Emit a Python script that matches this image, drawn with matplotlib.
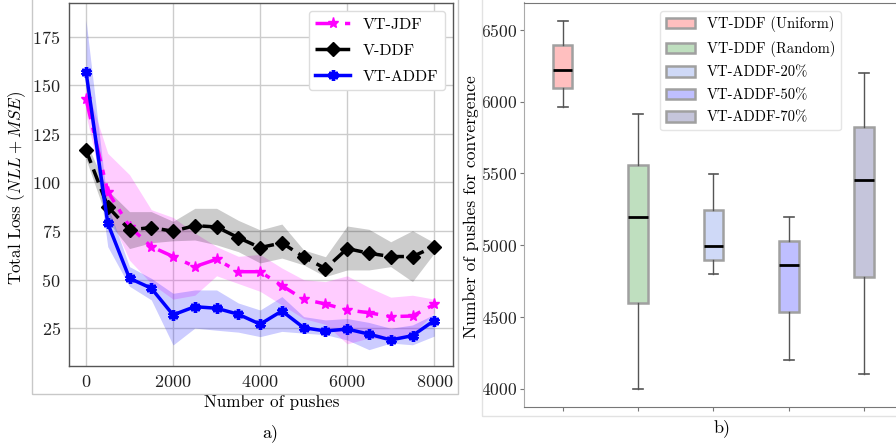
import numpy as np
import matplotlib
matplotlib.use("Agg")
import matplotlib.pyplot as plt
from matplotlib.patches import Rectangle, Patch

plt.rcParams['font.family'] = 'serif'
plt.rcParams['font.serif'] = ['cmr10']
plt.rcParams['mathtext.fontset'] = 'cm'
plt.rcParams['axes.formatter.use_mathtext'] = True

# ---- panel a) data ----
pushes = [0, 500, 1000, 1500, 2000, 2500, 3000, 3500, 4000, 4500,
          5000, 5500, 6000, 6500, 7000, 7500, 8000]

jdf = [143, 95.3, 77.3, 67, 61.9, 56.7, 60.5, 54.1, 54.1, 46.9,
       39.9, 37.5, 34.4, 33, 31, 31.3, 37.3]
jdf_hi = [150, 115, 104, 86, 82, 74, 67, 62, 63, 56,
          50, 49, 52, 46, 41, 42, 40]
jdf_lo = [135, 85, 60, 48, 40, 42, 52, 48, 44, 37,
          30, 27, 17, 20, 19, 22, 33]

ddf = [116.7, 87.6, 75.6, 76.8, 74.9, 77.8, 77.1, 71.6, 66.5, 68.9,
       61.7, 55.7, 66, 63.6, 61.9, 61.9, 67]
ddf_hi = [121, 96, 85, 85, 80, 86.7, 86.7, 80.5, 75.6, 78.6,
          65.3, 61.8, 77.6, 75.9, 69.5, 75.2, 69]
ddf_lo = [112, 80, 66, 69, 70, 70.4, 67.9, 64.4, 58.6, 61.1,
          57.6, 51.6, 55, 55, 56.7, 49, 63.7]

addf = [157, 79, 50.7, 45.6, 31.9, 36.1, 35.3, 32.2, 27.1, 33.9,
        25.3, 23.6, 24.6, 22, 19, 21.2, 29]
addf_hi = [183.6, 88, 56.7, 50.7, 43, 44.7, 44.7, 38, 34.4, 41.3,
           31, 29.3, 30, 28, 25, 26.7, 32.2]
addf_lo = [150, 67, 46.6, 39.6, 16.4, 25.1, 24, 23, 20.7, 23.4,
           22.5, 21.7, 19, 14, 17.4, 16.5, 21]

# ---- panel b) data ----
box_labels = ['VT-DDF (Uniform)', 'VT-DDF (Random)', 'VT-ADDF-20%',
              'VT-ADDF-50%', 'VT-ADDF-70%']
box_whislo = [5966, 4000, 4797, 4200, 4100]
box_q1 = [6093, 4599, 4899, 4532, 4781]
box_med = [6223, 5197, 4997, 4864, 5454]
box_q3 = [6395, 5559, 5248, 5032, 5824]
box_whishi = [6565, 5917, 5499, 5197, 6198]
box_colors = ['red', 'green', 'royalblue', 'blue', 'midnightblue']

W, H = 896, 446
fig = plt.figure(figsize=(W / 100, H / 100), dpi=100)


def frac(x0, y0, x1, y1):
    # pixel box (top-left origin) -> figure fraction
    return [x0 / W, 1 - y1 / H, (x1 - x0) / W, (y1 - y0) / H]


# panel frames
fig.patches.append(Rectangle((32 / W, 1 - 394 / H), (458 - 32) / W, 394 / H + 0.01,
                             transform=fig.transFigure, fill=False,
                             edgecolor='#c8c8c8', lw=1))
fig.patches.append(Rectangle((481.5 / W, 1 - 416 / H), 0.6, 416 / H + 0.01,
                             transform=fig.transFigure, fill=False,
                             edgecolor='#e2e2e2', lw=1))

# ---------- a) ----------
ax = fig.add_axes(frac(69, 3, 453, 366))
ax.grid(True, color='#cccccc', lw=1)
ax.set_axisbelow(True)

ax.fill_between(pushes, jdf_lo, jdf_hi, color='magenta', alpha=0.2, lw=0)
ax.fill_between(pushes, ddf_lo, ddf_hi, color='black', alpha=0.2, lw=0)
ax.fill_between(pushes, addf_lo, addf_hi, color='blue', alpha=0.2, lw=0)

ax.plot(pushes, jdf, color='magenta', ls='-.', lw=2.5, marker='*', ms=8,
        dashes=(6, 2.5, 1.5, 2.5), label='VT-JDF')
ax.plot(pushes, ddf, color='black', ls='--', lw=2.5, marker='D', ms=7,
        dashes=(4, 2), label='V-DDF')
ax.plot(pushes, addf, color='blue', ls='-', lw=2.5, marker=(6, 2, 0), ms=7.5,
        mew=2.5, label='VT-ADDF')

ax.set_xlim(-390, 8430)
ax.set_ylim(5.6, 192.3)
ax.set_xticks([0, 2000, 4000, 6000, 8000])
ax.set_yticks([25, 50, 75, 100, 125, 150, 175])
ax.tick_params(length=0, labelsize=13, pad=6, colors='#222222')
for s in ax.spines.values():
    s.set_color('#555555')
    s.set_linewidth(1)
ax.set_xlabel('Number of pushes', fontsize=12.3)
ax.xaxis.set_label_coords((271.5 - 69) / 384, -0.078)
ax.set_ylabel('Total Loss $(NLL + MSE)$', fontsize=12.3)
ax.yaxis.set_label_coords((28 - 69) / 384, 0.49)
ax.legend(loc='upper right', fontsize=11.5, framealpha=1, labelspacing=0.75,
          handlelength=2.2, edgecolor='#dddddd', fancybox=True)
fig.text(270 / W, 1 - 433 / H, 'a)', ha='center', va='center', fontsize=13)

# ---------- b) ----------
bx = fig.add_axes(frac(524, 2.5, 902, 407.3))
stats = []
for i in range(len(box_labels)):
    stats.append(dict(whislo=box_whislo[i], q1=box_q1[i], med=box_med[i],
                      q3=box_q3[i], whishi=box_whishi[i], label=box_labels[i]))
positions = np.arange(1, len(box_labels) + 1)
bp = bx.bxp(stats, positions=positions, widths=0.26, patch_artist=True,
            showfliers=False,
            boxprops=dict(edgecolor='#a0a0a0', lw=1.8),
            medianprops=dict(color='black', lw=2),
            whiskerprops=dict(color='#555555', lw=1),
            capprops=dict(color='#555555', lw=1.2))
for patch, c in zip(bp['boxes'], box_colors):
    patch.set_facecolor(matplotlib.colors.to_rgba(c, 0.25))

bx.set_xlim(0.487, 5.5)
bx.set_ylim(3870, 6692)
bx.set_yticks([4000, 4500, 5000, 5500, 6000, 6500])
bx.set_xticks(positions)
bx.set_xticklabels([])
bx.tick_params(length=3, width=0.8, color='#777777', labelsize=12.6,
               colors='#222222', pad=2)
bx.tick_params(axis='both', color='#777777')
for s in bx.spines.values():
    s.set_color('#777777')
bx.spines['left'].set_color('#aaaaaa')
bx.set_ylabel('Number of pushes for convergence', fontsize=12.6)
bx.yaxis.set_label_coords((479 - 524) / 378, 0.495)

handles = [Patch(facecolor=matplotlib.colors.to_rgba(c, 0.25),
                 edgecolor='#a0a0a0', lw=1.8) for c in box_colors]
bx.legend(handles, box_labels, loc='upper left', bbox_to_anchor=(0.36, 0.98),
          borderaxespad=0, fontsize=10.5, labelspacing=0.6, framealpha=1,
          edgecolor='#e5e5e5')
fig.text(722 / W, 1 - 428 / H, 'b)', ha='center', va='center', fontsize=13)

fig.savefig('out.png', dpi=100)
